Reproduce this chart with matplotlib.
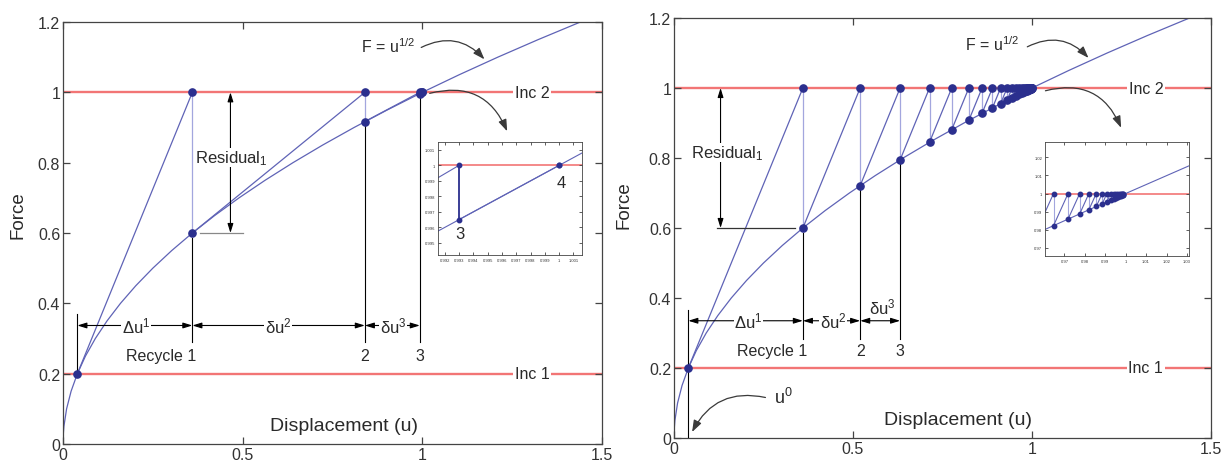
import numpy as np
import matplotlib
matplotlib.use('Agg')
import matplotlib.pyplot as plt
from matplotlib.patches import FancyArrowPatch
from matplotlib.ticker import FuncFormatter

plt.rcParams['font.family'] = ['Liberation Sans', 'DejaVu Sans']
plt.rcParams['mathtext.fontset'] = 'custom'
plt.rcParams['mathtext.rm'] = 'Liberation Sans'
plt.rcParams['mathtext.it'] = 'Liberation Sans:italic'

# ---------------- data ----------------
# curve F = u^(1/2)
curve_u = [0, 0.000625, 0.0025, 0.01, 0.0225, 0.04, 0.0625, 0.09, 0.1225, 0.16, 0.2025,
           0.25, 0.3025, 0.36, 0.4225, 0.49, 0.5625, 0.64, 0.7225, 0.81, 0.9025,
           1.0, 1.1025, 1.21, 1.3225, 1.44]
curve_F = [0, 0.025, 0.05, 0.10, 0.15, 0.20, 0.25, 0.30, 0.35, 0.40, 0.45,
           0.50, 0.55, 0.60, 0.65, 0.70, 0.75, 0.80, 0.85, 0.90, 0.95,
           1.00, 1.05, 1.10, 1.15, 1.20]

# load increments
inc_levels = [0.2, 1.0]
inc_labels = ['Inc 1', 'Inc 2']

# left: full Newton-Raphson iterations
nr_u = [0.04, 0.36, 0.84, 0.993, 1.0]
nr_F = [0.2, 0.6, 0.917, 0.9965, 1.0]

# right: modified Newton-Raphson iterations
mn_u = [0.04, 0.36, 0.52, 0.6316, 0.7137, 0.7758, 0.8235, 0.8605, 0.8895, 0.9123,
        0.9302, 0.9444, 0.9557, 0.9647, 0.9718, 0.9775, 0.9820, 0.9856, 0.9885,
        0.9908, 0.9927, 0.9941, 0.9953, 0.9963, 0.9970, 0.9976, 0.9981, 0.9985, 0.9988]
mn_F = [0.2, 0.6, 0.7211, 0.7947, 0.8448, 0.8808, 0.9075, 0.9276, 0.9431, 0.9551,
        0.9645, 0.9718, 0.9776, 0.9822, 0.9858, 0.9887, 0.9910, 0.9928, 0.9942,
        0.9954, 0.9963, 0.9971, 0.9976, 0.9981, 0.9985, 0.9988, 0.9990, 0.9992, 0.9994]

# curve pieces seen inside the zoom insets
inset1_curve_u = [0.9915, 1.0016]
inset1_curve_F = [0.99574, 1.0008]
inset2_curve_u = [0.955, 0.98, 1.0, 1.035]
inset2_curve_F = [0.97724, 0.98995, 1.0, 1.01735]

main_xticks = [0, 0.5, 1, 1.5]
main_yticks = [0, 0.2, 0.4, 0.6, 0.8, 1.0, 1.2]
inset1_xticks = [0.992, 0.993, 0.994, 0.995, 0.996, 0.997, 0.998, 0.999, 1.0, 1.001]
inset1_yticks = [0.995, 0.996, 0.997, 0.998, 0.999, 1.0, 1.001]
inset2_xticks = [0.97, 0.98, 0.99, 1.0, 1.01, 1.02, 1.03]
inset2_yticks = [0.97, 0.98, 0.99, 1.0, 1.01, 1.02]

# ---------------- style ----------------
CURVE = '#5f63b6'
LIGHT = '#a3a6de'
DOT = '#2b2f8e'
RED = '#f27575'
FRAME = '#444444'
TXT = '#2a2a2a'
GFMT = FuncFormatter(lambda v, p: '%g' % round(v, 6))

fig = plt.figure(figsize=(12.28, 4.64), dpi=100)


def style_axes(ax, xt, yt, fs, length, lw):
    ax.set_xticks(xt)
    ax.set_yticks(yt)
    ax.xaxis.set_major_formatter(GFMT)
    ax.yaxis.set_major_formatter(GFMT)
    ax.tick_params(direction='in', top=True, right=True, length=length, width=lw,
                   labelsize=fs, colors=FRAME, labelcolor='#333333', pad=2)
    for s in ax.spines.values():
        s.set_color(FRAME)
        s.set_linewidth(lw)


def draw_iterations(ax, cu, cF, us, Fs, ms, lw, vcolor=LIGHT, vlw=None):
    target = inc_levels[1]
    ax.plot(cu, cF, color=CURVE, lw=lw, zorder=2)
    for k in range(len(us) - 1):
        ax.plot([us[k], us[k + 1]], [Fs[k], target], color=CURVE, lw=lw, zorder=2)
        ax.plot([us[k + 1], us[k + 1]], [target, Fs[k + 1]], color=vcolor,
                lw=vlw if vlw else lw, zorder=2)
    ax.plot(us, Fs, 'o', color=DOT, ms=ms, mec=DOT, zorder=4)
    ax.plot(us[1:], [target] * (len(us) - 1), 'o', color=DOT, ms=ms, mec=DOT, zorder=4)


def dim_arrow(ax, x0, x1, y):
    ax.annotate('', xy=(x1, y), xytext=(x0, y),
                arrowprops=dict(arrowstyle='<|-|>,head_length=0.55,head_width=0.17',
                                color='black', lw=0.8, shrinkA=0, shrinkB=0,
                                mutation_scale=10), zorder=3)


def curved(ax, p0, p1, rad):
    a = FancyArrowPatch(p0, p1, connectionstyle='arc3,rad=%g' % rad,
                        arrowstyle='-|>,head_length=0.7,head_width=0.25',
                        mutation_scale=10, color='#3a3a3a', lw=0.9, zorder=6)
    ax.add_patch(a)


def main_panel(rect, us, Fs):
    ax = fig.add_axes(rect)
    ax.set_xlim(0, 1.5)
    ax.set_ylim(0, 1.2)
    style_axes(ax, main_xticks, main_yticks, 11.5, 5, 0.9)
    for lev in inc_levels:
        ax.axhline(lev, color=RED, lw=1.7, zorder=1)
    draw_iterations(ax, curve_u, curve_F, us, Fs, 5.2, 0.9)
    return ax


bbox_w = dict(fc='white', ec='none', pad=1.2)

# ================= left panel =================
ax1 = main_panel([63 / 1228, 1 - 445 / 464, 539 / 1228, 422 / 464], nr_u, nr_F)
for lev, lab in zip(inc_levels, inc_labels):
    ax1.text(1.305, lev, lab, ha='center', va='center', fontsize=11.5,
             color=TXT, bbox=bbox_w, zorder=5)
# dimension lines
ax1.plot([nr_u[0], nr_u[0]], [nr_F[0], 0.37], color='k', lw=0.8, zorder=3)
for k in (1, 2, 3):
    ax1.plot([nr_u[k], nr_u[k]], [nr_F[k] - 0.013, 0.29], color='k', lw=0.8, zorder=3)
for k in range(3):
    dim_arrow(ax1, nr_u[k], nr_u[k + 1], 0.337)
ax1.text(0.204, 0.337, 'Δu$^{1}$', ha='center', va='center', fontsize=12,
         color=TXT, bbox=dict(fc='white', ec='none', pad=0.5), zorder=5)
ax1.text(0.598, 0.337, 'δu$^{2}$', ha='center', va='center', fontsize=12,
         color=TXT, bbox=dict(fc='white', ec='none', pad=0.5), zorder=5)
ax1.text(0.918, 0.337, 'δu$^{3}$', ha='center', va='center', fontsize=12,
         color=TXT, bbox=dict(fc='white', ec='none', pad=0.5), zorder=5)
ax1.text(0.372, 0.251, 'Recycle 1', ha='right', va='center', fontsize=11.5, color=TXT)
ax1.text(nr_u[2], 0.251, '2', ha='center', va='center', fontsize=11.5, color=TXT)
ax1.text(nr_u[3], 0.251, '3', ha='center', va='center', fontsize=11.5, color=TXT)
# residual
ax1.annotate('', xy=(0.466, 0.6), xytext=(0.466, 1.0),
             arrowprops=dict(arrowstyle='<|-|>,head_length=0.55,head_width=0.17',
                             color='black', lw=0.8, shrinkA=0, shrinkB=0,
                             mutation_scale=10), zorder=3)
ax1.plot([0.38, 0.50], [0.6, 0.6], color='#888888', lw=0.9, zorder=3)
ax1.text(0.367, 0.815, 'Residual$_{1}$', ha='left', va='center', fontsize=12,
         color=TXT, bbox=dict(fc='white', ec='none', pad=0.3), zorder=5)
ax1.text(0.905, 1.134, 'F = u$^{1/2}$', ha='center', va='center', fontsize=11.5,
         color=TXT, zorder=5)
curved(ax1, (0.99, 1.124), (1.178, 1.088), -0.4)
curved(ax1, (1.013, 0.995), (1.239, 0.882), -0.45)
ax1.text(0.782, 0.052, 'Displacement (u)', ha='center', va='center', fontsize=14,
         color=TXT)
ax1.text(-0.083, 0.545, 'Force', rotation=90, ha='center', va='center', fontsize=13.5,
         color=TXT, transform=ax1.transAxes)

# left inset
in1 = fig.add_axes([438 / 1228, 1 - 256 / 464, 144 / 1228, 113 / 464])
in1.set_xlim(0.99153, 1.0016)
in1.set_ylim(0.99421, 1.00151)
style_axes(in1, inset1_xticks, inset1_yticks, 3, 2, 0.6)
in1.axhline(inc_levels[1], color=RED, lw=1.2, zorder=1)
draw_iterations(in1, inset1_curve_u, inset1_curve_F, nr_u, nr_F, 3.2, 0.8,
                vcolor=DOT, vlw=1.3)
in1.text(0.99309, 0.99562, '3', ha='center', va='center', fontsize=12, color=TXT)
in1.text(1.00015, 0.99890, '4', ha='center', va='center', fontsize=12, color=TXT)

# ================= right panel =================
ax2 = main_panel([674 / 1228, 1 - 439 / 464, 537 / 1228, 420 / 464], mn_u, mn_F)
for lev, lab in zip(inc_levels, inc_labels):
    ax2.text(1.318, lev, lab, ha='center', va='center', fontsize=11.5,
             color=TXT, bbox=bbox_w, zorder=5)
ax2.plot([mn_u[0], mn_u[0]], [0.0, 0.365], color='k', lw=0.8, zorder=3)
for k in (1, 2, 3):
    ax2.plot([mn_u[k], mn_u[k]], [mn_F[k] - 0.013, 0.284], color='k', lw=0.8, zorder=3)
for k in range(3):
    dim_arrow(ax2, mn_u[k], mn_u[k + 1], 0.335)
ax2.text(0.208, 0.335, 'Δu$^{1}$', ha='center', va='center', fontsize=12,
         color=TXT, bbox=dict(fc='white', ec='none', pad=0.5), zorder=5)
ax2.text(0.445, 0.335, 'δu$^{2}$', ha='center', va='center', fontsize=12,
         color=TXT, bbox=dict(fc='white', ec='none', pad=0.5), zorder=5)
ax2.text(0.583, 0.375, 'δu$^{3}$', ha='center', va='center', fontsize=12,
         color=TXT, zorder=5)
ax2.text(0.372, 0.25, 'Recycle 1', ha='right', va='center', fontsize=11.5, color=TXT)
ax2.text(mn_u[2], 0.25, '2', ha='center', va='center', fontsize=11.5, color=TXT)
ax2.text(mn_u[3], 0.25, '3', ha='center', va='center', fontsize=11.5, color=TXT)
ax2.annotate('', xy=(0.130, 0.6), xytext=(0.130, 1.0),
             arrowprops=dict(arrowstyle='<|-|>,head_length=0.55,head_width=0.17',
                             color='black', lw=0.8, shrinkA=0, shrinkB=0,
                             mutation_scale=10), zorder=3)
ax2.plot([0.121, 0.338], [0.6, 0.6], color='#333333', lw=0.9, zorder=3)
ax2.text(0.047, 0.815, 'Residual$_{1}$', ha='left', va='center', fontsize=12,
         color=TXT, bbox=dict(fc='white', ec='none', pad=0.3), zorder=5)
ax2.text(0.888, 1.127, 'F = u$^{1/2}$', ha='center', va='center', fontsize=11.5,
         color=TXT, zorder=5)
curved(ax2, (0.98, 1.114), (1.163, 1.080), -0.4)
curved(ax2, (1.03, 0.99), (1.252, 0.879), -0.45)
ax2.text(0.279, 0.117, 'u$^{0}$', ha='left', va='center', fontsize=13, color=TXT)
curved(ax2, (0.263, 0.114), (0.047, 0.010), 0.4)
ax2.text(0.793, 0.053, 'Displacement (u)', ha='center', va='center', fontsize=14,
         color=TXT)
ax2.text(-0.094, 0.558, 'Force', rotation=90, ha='center', va='center', fontsize=13.5,
         color=TXT, transform=ax2.transAxes)

# right inset
in2 = fig.add_axes([1045 / 1228, 1 - 257 / 464, 144 / 1228, 114 / 464])
in2.set_xlim(0.9605, 1.031)
in2.set_ylim(0.9653, 1.0286)
style_axes(in2, inset2_xticks, inset2_yticks, 3, 2, 0.6)
in2.axhline(inc_levels[1], color=RED, lw=1.2, zorder=1)
draw_iterations(in2, inset2_curve_u, inset2_curve_F, mn_u, mn_F, 3.2, 0.8)

fig.savefig('out.png', dpi=100)
